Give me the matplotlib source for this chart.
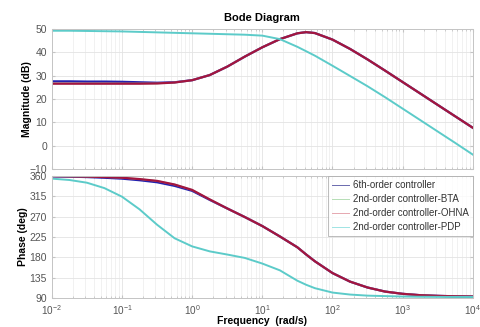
import matplotlib
matplotlib.use("Agg")
import matplotlib.pyplot as plt
from matplotlib.lines import Line2D
from matplotlib.ticker import LogLocator, NullFormatter, FixedLocator

plt.rcParams['font.family'] = ['Liberation Sans', 'DejaVu Sans']
plt.rcParams['mathtext.fontset'] = 'custom'
plt.rcParams['mathtext.rm'] = 'Liberation Sans'

# frequency grid (rad/s), quarter decades plus one point at the resonance
freq = [0.01, 0.0178, 0.0316, 0.0562, 0.1, 0.178, 0.316, 0.562, 1.0, 1.78, 3.16, 5.62,
        10.0, 17.8, 31.6, 42.2, 56.2, 100.0, 178.0, 316.0, 562.0, 1000.0, 1780.0, 3160.0,
        5620.0, 10000.0]

mag_6th = [27.6, 27.6, 27.5, 27.5, 27.4, 27.2, 27.0, 27.2, 28.1, 30.3, 33.9, 38.2,
           42.2, 45.7, 48.2, 48.7, 48.3, 45.5, 41.5, 37.0, 32.2, 27.3, 22.4, 17.5, 12.6, 7.7]
mag_bta = [26.7, 26.7, 26.7, 26.7, 26.7, 26.7, 26.7, 27.1, 28.1, 30.3, 33.9, 38.2,
           42.2, 45.7, 48.2, 48.7, 48.3, 45.5, 41.5, 37.0, 32.2, 27.3, 22.4, 17.5, 12.6, 7.7]
mag_ohna = [26.6, 26.6, 26.6, 26.6, 26.6, 26.6, 26.7, 27.1, 28.1, 30.3, 33.9, 38.2,
            42.2, 45.7, 48.2, 48.7, 48.3, 45.5, 41.5, 37.0, 32.2, 27.3, 22.4, 17.5, 12.6, 7.7]
mag_pdp = [49.3, 49.3, 49.2, 49.1, 49.0, 48.8, 48.6, 48.4, 48.2, 48.0, 47.8, 47.6,
           47.2, 45.7, 42.4, 40.5, 38.6, 34.3, 29.9, 25.5, 20.8, 15.9, 11.0, 6.1, 1.2, -3.8]

ph_6th = [359.0, 358.5, 357.5, 356.0, 354.0, 350.5, 346.0, 338.0, 327.0, 307.0, 288.0, 269.0,
          249.0, 226.0, 202.0, 186.0, 171.0, 145.0, 126.0, 113.0, 104.0, 99.0, 96.0, 94.5, 93.5, 93.0]
ph_bta = [359.5, 359.0, 358.5, 357.5, 356.0, 353.0, 349.0, 341.0, 329.0, 308.0, 288.0, 269.0,
          249.0, 226.0, 202.0, 186.0, 171.0, 145.0, 126.0, 113.0, 104.0, 99.0, 96.0, 94.5, 93.5, 93.0]
ph_ohna = [359.5, 359.0, 358.5, 357.5, 356.0, 353.0, 349.0, 341.0, 329.0, 308.0, 288.0, 269.0,
           249.0, 226.0, 202.0, 186.0, 171.0, 145.0, 126.0, 113.0, 104.0, 99.0, 96.0, 94.5, 93.5, 93.0]
ph_pdp = [354.0, 351.0, 345.0, 333.0, 314.0, 286.0, 252.0, 222.0, 204.0, 193.0, 186.0, 178.5,
          166.0, 151.0, 128.0, 119.0, 111.5, 101.8, 97.4, 95.0, 94.0, 93.0, 92.5, 92.3, 92.1, 92.0]

labels = ['6th-order controller', '2nd-order controller-BTA',
          '2nd-order controller-OHNA', '2nd-order controller-PDP']
xticks = [1e-2, 1e-1, 1e0, 1e1, 1e2, 1e3, 1e4]
xticklabels = [r'$10^{-2}$', r'$10^{-1}$', r'$10^{0}$', r'$10^{1}$', r'$10^{2}$', r'$10^{3}$', r'$10^{4}$']
mag_ticks = [-10, 0, 10, 20, 30, 40, 50]
ph_ticks = [90, 135, 180, 225, 270, 315, 360]

c_6th = '#2222B0'
c_bta = '#9FD39F'
c_ohna = '#A3143F'
c_pdp = '#5CCBC9'

fig = plt.figure(figsize=(4.8, 3.27), dpi=100)
ax1 = fig.add_axes([0.108, 0.483, 0.877, 0.428])
ax2 = fig.add_axes([0.108, 0.089, 0.877, 0.373])

tick_col = '#555555'
spine_col = '#C4C4C4'
for ax in (ax1, ax2):
    ax.set_xscale('log')
    ax.set_xlim(1e-2, 1e4)
    ax.xaxis.set_major_locator(FixedLocator(xticks))
    ax.xaxis.set_minor_locator(LogLocator(base=10, subs=range(2, 10), numticks=20))
    ax.xaxis.set_minor_formatter(NullFormatter())
    ax.grid(True, which='major', color='#E3E3E3', lw=0.6)
    ax.grid(True, which='minor', axis='x', color='#EBEBEB', lw=0.5)
    ax.set_axisbelow(True)
    for s in ax.spines.values():
        s.set_color(spine_col)
        s.set_linewidth(0.7)
    ax.tick_params(which='both', direction='in', colors=spine_col, labelcolor=tick_col,
                   labelsize=7.5, length=2, top=True, right=True)
    ax.tick_params(which='minor', length=1.2)

ax1.plot(freq, mag_6th, color=c_6th, lw=1.6)
ax1.plot(freq, mag_bta, color=c_bta, lw=1.2)
ax1.plot(freq, mag_ohna, color=c_ohna, lw=1.6)
ax1.plot(freq, mag_pdp, color=c_pdp, lw=1.4)
ax1.set_ylim(-10, 50)
ax1.set_yticks(mag_ticks)
ax1.set_xticklabels([])
ax1.set_ylabel('Magnitude (dB)', fontsize=7.5, fontweight='bold')
ax1.yaxis.set_label_coords(-0.046, 0.5)
ax1.set_title('Bode Diagram', fontsize=8, fontweight='bold', pad=6)

ax2.plot(freq, ph_6th, color=c_6th, lw=1.6)
ax2.plot(freq, ph_bta, color=c_bta, lw=1.2)
ax2.plot(freq, ph_ohna, color=c_ohna, lw=1.6)
ax2.plot(freq, ph_pdp, color=c_pdp, lw=1.4)
ax2.set_ylim(90, 360)
ax2.set_yticks(ph_ticks)
ax2.set_xticklabels(xticklabels)
ax2.tick_params(axis='x', labelsize=7.2)
ax2.set_ylabel('Phase (deg)', fontsize=7.5, fontweight='bold')
ax2.yaxis.set_label_coords(-0.056, 0.5)
ax2.set_xlabel('Frequency  (rad/s)', fontsize=7.5, fontweight='bold')
ax2.xaxis.set_label_coords(0.5, -0.15)

handles = [Line2D([], [], color='#6A6AAE', lw=0.7),
           Line2D([], [], color='#B5DDB5', lw=0.7),
           Line2D([], [], color='#E6A8B0', lw=0.7),
           Line2D([], [], color='#9EE4E4', lw=0.7)]
leg = ax2.legend(handles, labels, loc='upper right', fontsize=7.0, frameon=True,
                 fancybox=False, borderaxespad=0.0, handlelength=1.7, handletextpad=0.4,
                 labelspacing=0.4, borderpad=0.45)
leg.get_frame().set_edgecolor('#AAAAAA')
leg.get_frame().set_linewidth(0.7)
for t in leg.get_texts():
    t.set_color('#333333')

fig.savefig('out.png', dpi=100)
